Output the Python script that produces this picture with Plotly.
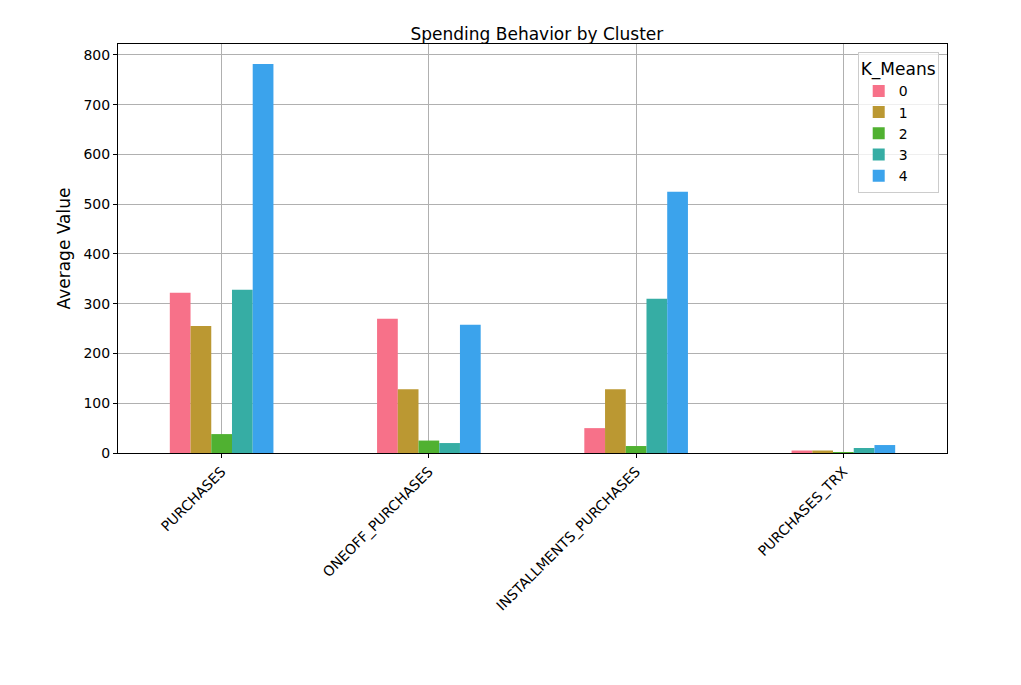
import plotly.graph_objects as go

categories = ["PURCHASES", "ONEOFF_PURCHASES", "INSTALLMENTS_PURCHASES", "PURCHASES_TRX"]
cluster_0 = [322, 270, 50, 5]
cluster_1 = [255, 128, 128, 5]
cluster_2 = [38, 25, 14, 2]
cluster_3 = [328, 20, 310, 10]
cluster_4 = [782, 258, 525, 16]
clusters = ["0", "1", "2", "3", "4"]
colors = ["#f77189", "#bb9832", "#50b131", "#36ada4", "#3ba3ec"]

fig = go.Figure()
for name, vals, c in zip(clusters, [cluster_0, cluster_1, cluster_2, cluster_3, cluster_4], colors):
    fig.add_trace(go.Bar(x=categories, y=vals, name=name, marker=dict(color=c, line=dict(width=0))))

axis_style = dict(showline=True, linecolor="black", linewidth=1, mirror=True,
                  showgrid=True, gridcolor="#b0b0b0", gridwidth=1, ticks="outside",
                  ticklen=4, tickcolor="black", zeroline=False)

fig.update_layout(
    width=1021, height=685,
    barmode="group", bargap=0.5, bargroupgap=0,
    plot_bgcolor="white", paper_bgcolor="white",
    font=dict(family="DejaVu Sans", size=14, color="black"),
    title=dict(text="Spending Behavior by Cluster", x=0.518, y=0.97, xanchor="center",
               font=dict(size=17)),
    margin=dict(l=110, r=82, t=36, b=240),
    legend=dict(title=dict(text="K_Means", side="top center"), x=0.99, y=0.98, xanchor="right", yanchor="top",
                bordercolor="#cccccc", borderwidth=1, bgcolor="rgba(255,255,255,0.8)"),
)
fig.update_xaxes(**axis_style, tickangle=-45)
fig.update_yaxes(**axis_style, range=[0, 822], dtick=100, title=dict(text="Average Value", standoff=8))

fig.write_html("out.html")
